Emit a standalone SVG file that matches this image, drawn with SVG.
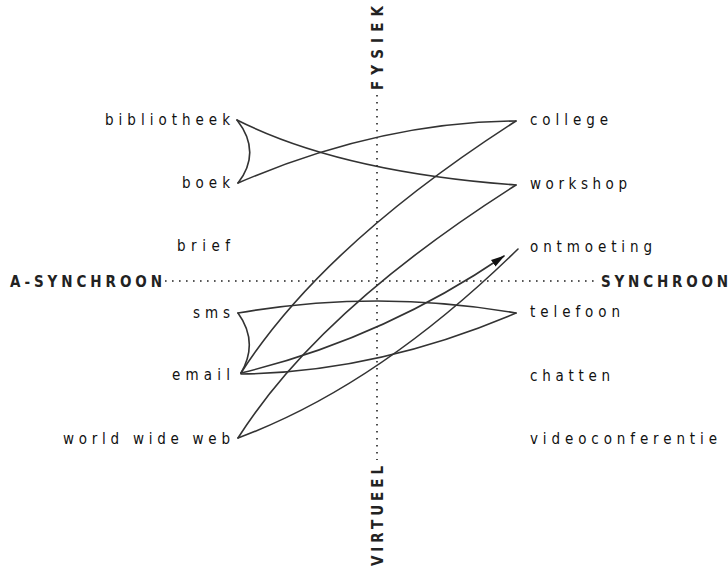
<svg xmlns="http://www.w3.org/2000/svg" width="728" height="568" viewBox="0 0 728 568">
<style>
.lbl{font-family:"DejaVu Sans Condensed","DejaVu Sans","Liberation Sans",sans-serif;font-stretch:condensed;font-size:15px;fill:#111;}
.ax{font-family:"DejaVu Sans Condensed","DejaVu Sans","Liberation Sans",sans-serif;font-stretch:condensed;font-size:15px;font-weight:bold;fill:#222;}
.axis{stroke:#222;stroke-width:1.6;stroke-dasharray:1.6 5.4;fill:none;}
.c{stroke:#333;stroke-width:1.6;fill:none;stroke-linecap:round;}
</style>
<defs>
<marker id="ah" viewBox="0 0 14 10" refX="13" refY="5" markerWidth="14" markerHeight="10" markerUnits="userSpaceOnUse" orient="auto">
<path d="M0,1 L14,5 L0,9 Z" fill="#111"/>
</marker>
</defs>
<rect width="728" height="568" fill="#fff"/>
<g id="axes">
<line class="axis" x1="165" y1="281" x2="597" y2="281"/>
<line class="axis" x1="377" y1="95" x2="377" y2="460"/>
</g>
<g id="axis-labels">
<g id="a-synchroon"><text class="ax" x="10" y="287" textLength="152" lengthAdjust="spacing">A-SYNCHROON</text></g>
<g id="synchroon"><text class="ax" x="601" y="287" textLength="127" lengthAdjust="spacing">SYNCHROON</text></g>
<g id="fysiek"><text class="ax" transform="translate(383,90) rotate(-90)" x="0" y="0" textLength="84" lengthAdjust="spacing">FYSIEK</text></g>
<g id="virtueel"><text class="ax" transform="translate(383,566) rotate(-90)" x="0" y="0" textLength="100" lengthAdjust="spacing">VIRTUEEL</text></g>
</g>
<g id="connectors">
<path class="c" d="M237,120 Q262,152 238,183"/>
<path class="c" d="M237,120 Q340,172 516,185"/>
<path class="c" d="M238,183 Q380,122 516,121"/>
<path class="c" d="M516,121 Q323,245 241,373"/>
<path class="c" d="M516,185 Q319,310 238,438"/>
<path class="c" d="M238,313 Q259,342 241,373"/>
<path class="c" d="M238,313 Q378,289 516,313"/>
<path class="c" d="M516,313 Q378,372 241,374"/>
<path class="c" d="M241,373 Q382,339 504,256" marker-end="url(#ah)"/>
<path class="c" d="M238,438 Q378,386 518,249"/>
</g>
<g id="bibliotheek"><text class="lbl" x="105" y="125" textLength="125" lengthAdjust="spacing">bibliotheek</text></g>
<g id="boek"><text class="lbl" x="182" y="188" textLength="48" lengthAdjust="spacing">boek</text></g>
<g id="brief"><text class="lbl" x="177" y="251" textLength="53" lengthAdjust="spacing">brief</text></g>
<g id="sms"><text class="lbl" x="193" y="318" textLength="37" lengthAdjust="spacing">sms</text></g>
<g id="email"><text class="lbl" x="172" y="380" textLength="58" lengthAdjust="spacing">email</text></g>
<g id="world-wide-web"><text class="lbl" x="63" y="444" textLength="167" lengthAdjust="spacing">world wide web</text></g>
<g id="college"><text class="lbl" x="530" y="125" textLength="78" lengthAdjust="spacing">college</text></g>
<g id="workshop"><text class="lbl" x="530" y="189" textLength="97" lengthAdjust="spacing">workshop</text></g>
<g id="ontmoeting"><text class="lbl" x="530" y="252" textLength="122" lengthAdjust="spacing">ontmoeting</text></g>
<g id="telefoon"><text class="lbl" x="530" y="317" textLength="90" lengthAdjust="spacing">telefoon</text></g>
<g id="chatten"><text class="lbl" x="530" y="381" textLength="80" lengthAdjust="spacing">chatten</text></g>
<g id="videoconferentie"><text class="lbl" x="530" y="444" textLength="187" lengthAdjust="spacing">videoconferentie</text></g>
</svg>
